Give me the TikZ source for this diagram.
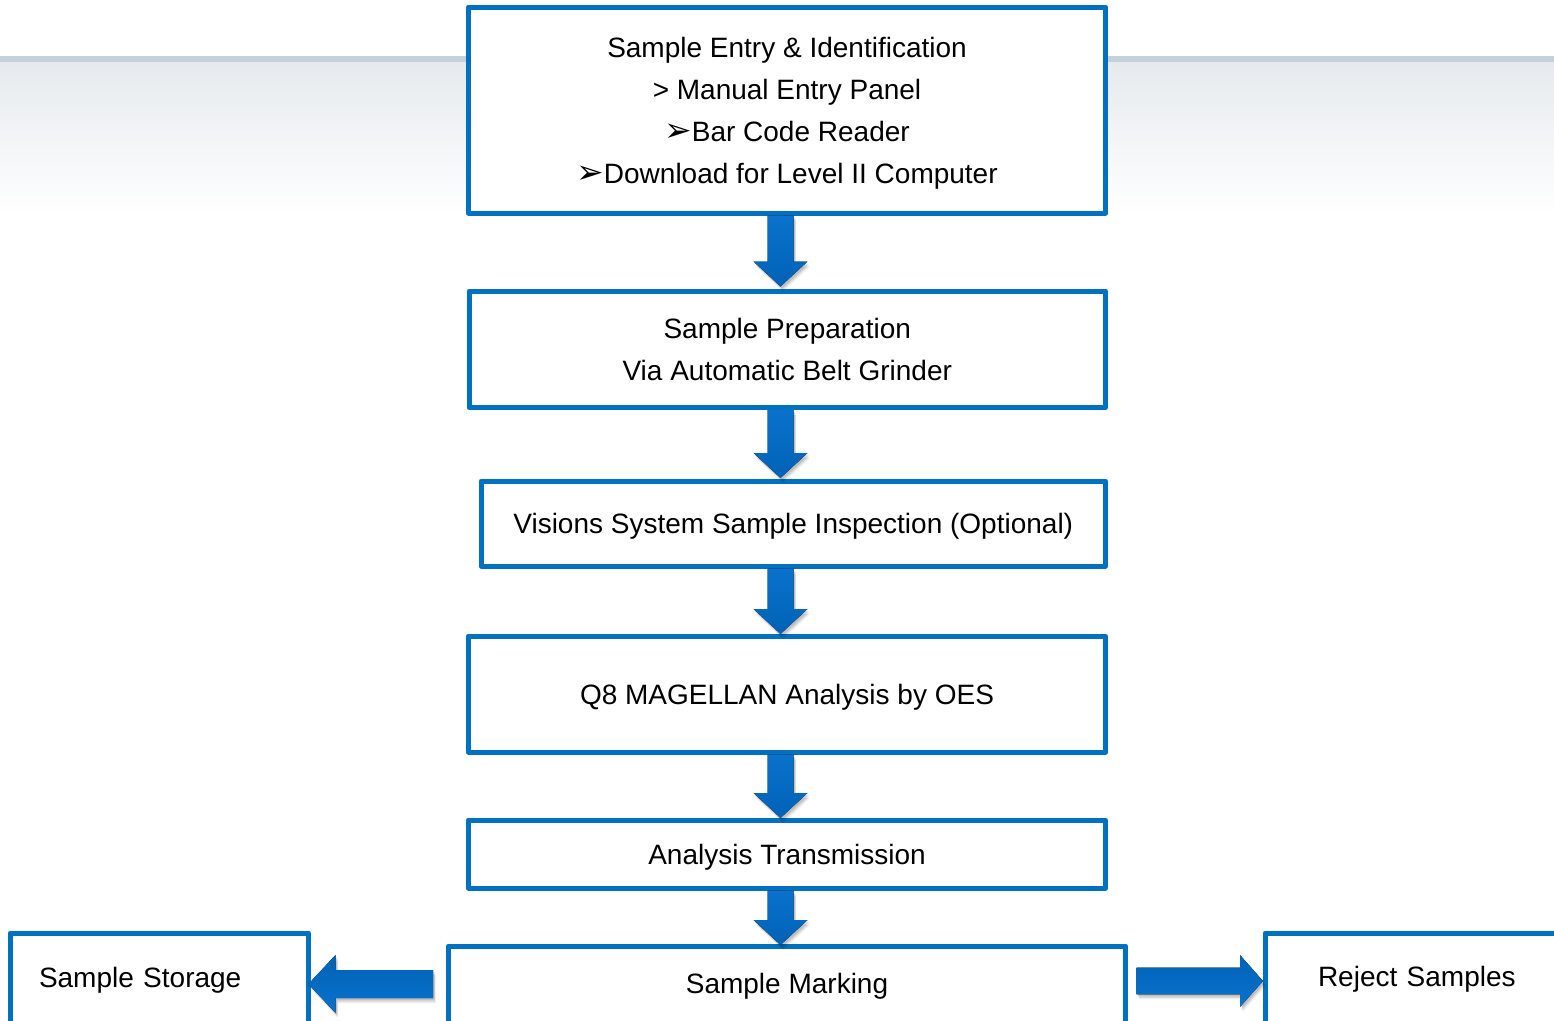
\documentclass[tikz,border=0pt]{standalone}
\usepackage{fontspec}
\setmainfont{Liberation Sans}
\newfontfamily\dingfont{DejaVu Sans}
\usetikzlibrary{calc}

\definecolor{boxblue}{HTML}{0070C0}
\definecolor{arrowlight}{HTML}{0A72CC}
\definecolor{arrowdark}{HTML}{0062B6}
\definecolor{bandline}{HTML}{C6D0D9}
\definecolor{bandtop}{HTML}{E6EAEE}

% arrow-head bullet used in the list of entry methods
\newcommand{\listarrow}{{\dingfont\fontsize{33}{33}\selectfont ➢}}

% block arrow pointing down: shaft top #1, tip #2, fill options #3
\newcommand{\downshape}[3]{%
  \fill[#3] ($(#1)+(-13,0)$) -- ($(#1)+(13,0)$) -- ($(#2)+(13,-25)$)
    -- ($(#2)+(27,-25)$) -- (#2) -- ($(#2)+(-27,-25)$) -- ($(#2)+(-13,-25)$) -- cycle;}
% horizontal block arrow: shaft end #1, tip #2, head length #3 (signed),
% shaft half height #4, head half height #5, fill options #6
\newcommand{\sideshape}[6]{%
  \fill[#6] ($(#1)+(0,-#4)$) -- ($(#2)+(#3,-#4)$) -- ($(#2)+(#3,-#5)$)
    -- (#2) -- ($(#2)+(#3,#5)$) -- ($(#2)+(#3,#4)$) -- ($(#1)+(0,#4)$) -- cycle;}
% soft drop shadow under a block arrow
\newcommand{\softshadow}[1]{%
  #1{black,opacity=0.07,transform canvas={shift={(2.5pt,-5pt)}}}%
  #1{black,opacity=0.09,transform canvas={shift={(2pt,-3.5pt)}}}%
  #1{black,opacity=0.11,transform canvas={shift={(1.5pt,-2pt)}}}}

\begin{document}
\begin{tikzpicture}[x=1pt,y=-1pt,
  flowbox/.style={draw=boxblue, line width=5pt, line join=round, fill=white,
    inner sep=0pt, outer sep=0pt, align=center, text height=20pt, text depth=0pt,
    font=\fontsize{28}{42}\selectfont},
  cutbox/.style={flowbox, anchor=north west, text depth=80pt},
  vgrad/.style={top color=arrowlight, bottom color=arrowdark},
  hgrad/.style={top color=arrowdark, bottom color=arrowlight}
]
\useasboundingbox (0,0) rectangle (1554,1020);
\clip (0,0) rectangle (1554,1020);

% header band behind the first step
\fill[white] (0,0) rectangle (1554,1020);
\fill[bandline] (0,56) rectangle (1554,62);
\shade[top color=bandtop, bottom color=white] (0,62) rectangle (1554,216);

% process steps
\node[flowbox, minimum width=637pt, minimum height=206pt, text height=146pt]
  (entry) at (787,110)
  {Sample Entry \& Identification\\> Manual Entry Panel\\\listarrow Bar Code Reader\\\listarrow Download for Level II Computer};
\node[flowbox, minimum width=636.5pt, minimum height=116.5pt, text height=62pt]
  (prep) at (787.25,349.25) {Sample Preparation\\Via Automatic Belt Grinder};
\node[flowbox, minimum width=624.5pt, minimum height=85pt]
  (vision) at (793.25,523.5) {Visions System Sample Inspection (Optional)};
\node[flowbox, minimum width=637pt, minimum height=116pt]
  (analysis) at (787,694) {Q8 MAGELLAN Analysis by OES};
\node[flowbox, minimum width=637pt, minimum height=68pt]
  (transmit) at (787,854) {Analysis Transmission};
\node[cutbox, minimum width=677pt, inner ysep=27pt]
  (mark) at (448.5,946) {Sample Marking};
\node[cutbox, align=left, text width=240.5pt, inner xsep=29pt, inner ysep=34pt]
  (storage) at (10,933) {Sample Storage};
\node[cutbox, align=left, text width=294pt, inner xsep=53pt, inner ysep=33pt]
  (reject) at (1265,933) {Reject Samples};

% down arrows along the main flow
\coordinate (axis) at (780.5,0);
\coordinate (s1) at ($(entry.south -| axis)+(0,2.5)$);
\coordinate (t1) at ($(prep.north -| axis)+(0,-4.5)$);
\coordinate (s2) at ($(prep.south -| axis)+(0,2.5)$);
\coordinate (t2) at ($(vision.north -| axis)+(0,-3)$);
\coordinate (s3) at ($(vision.south -| axis)+(0,2.5)$);
\coordinate (t3) at ($(analysis.north -| axis)+(0,-2)$);
\coordinate (s4) at ($(analysis.south -| axis)+(0,2.5)$);
\coordinate (t4) at ($(transmit.north -| axis)+(0,-2)$);
\coordinate (s5) at ($(transmit.south -| axis)+(0,2.5)$);
\coordinate (t5) at ($(mark.north -| axis)+(0,-1)$);
\foreach \s/\t in {s1/t1,s2/t2,s3/t3,s4/t4,s5/t5}{
  \softshadow{\downshape{\s}{\t}}
  \downshape{\s}{\t}{vgrad}
}

% side arrows from the marking station
\coordinate (rowL) at (0,984);
\coordinate (rowR) at (0,981);
\coordinate (lstart) at ($(mark.west |- rowL)+(-15.5,0)$);
\coordinate (ltip) at (storage.east |- rowL);
\coordinate (rstart) at ($(mark.east |- rowR)+(11,0)$);
\coordinate (rtip) at ($(reject.west |- rowR)+(-2,0)$);
\softshadow{\sideshape{lstart}{ltip}{27}{14}{29}}
\sideshape{lstart}{ltip}{27}{14}{29}{hgrad}
\softshadow{\sideshape{rstart}{rtip}{-23}{13.3}{26}}
\sideshape{rstart}{rtip}{-23}{13.3}{26}{hgrad}
\end{tikzpicture}
\end{document}
